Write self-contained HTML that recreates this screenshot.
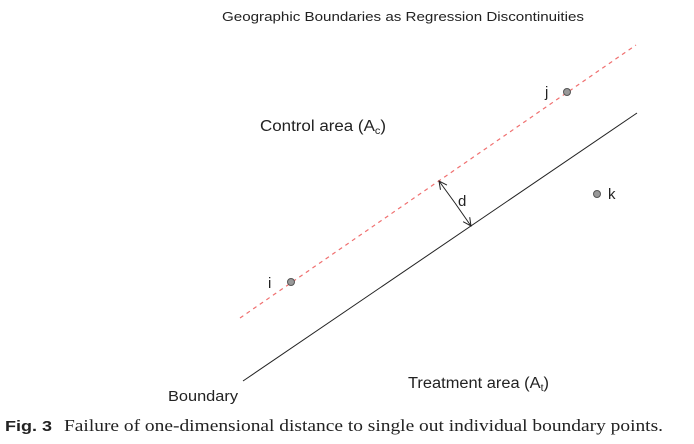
<!DOCTYPE html>
<html><head><style>
body{margin:0;background:#fff;width:694px;height:444px;overflow:hidden}
</style></head><body>
<svg width="694" height="444" xmlns="http://www.w3.org/2000/svg" style="position:absolute;left:0;top:0">
<defs><marker id="a" markerWidth="10" markerHeight="10" refX="9" refY="5" orient="auto" markerUnits="userSpaceOnUse"><path d="M1,1 L9,5 L1,9" fill="none" stroke="#222" stroke-width="1"/></marker></defs>
<text x="222" y="21" font-family="Liberation Sans, sans-serif" font-size="13" textLength="362" lengthAdjust="spacingAndGlyphs" fill="#222">Geographic Boundaries as Regression Discontinuities</text>
<line x1="243" y1="381" x2="637" y2="113" stroke="#222" stroke-width="1"/>
<line x1="240" y1="318" x2="636" y2="45" stroke="#f07070" stroke-width="1.2" stroke-dasharray="4,4"/>
<line x1="455" y1="203" x2="439" y2="181" stroke="#222" marker-end="url(#a)"/>
<line x1="455" y1="203" x2="471" y2="226" stroke="#222" marker-end="url(#a)"/>
<text x="458" y="206" font-family="Liberation Sans, sans-serif" font-size="15" fill="#222">d</text>
<circle cx="567" cy="92" r="3.5" fill="#999" stroke="#555"/>
<circle cx="597" cy="194" r="3.5" fill="#999" stroke="#555"/>
<circle cx="291" cy="282" r="3.5" fill="#999" stroke="#555"/>
<text x="545" y="97" font-family="Liberation Sans, sans-serif" font-size="15" fill="#222">j</text>
<text x="608" y="199" font-family="Liberation Sans, sans-serif" font-size="15" fill="#222">k</text>
<text x="268" y="288" font-family="Liberation Sans, sans-serif" font-size="15" fill="#222">i</text>
<text x="260" y="131" font-family="Liberation Sans, sans-serif" font-size="15.5" fill="#222" textLength="126" lengthAdjust="spacingAndGlyphs">Control area (A<tspan font-size="10" dy="3">c</tspan><tspan dy="-3">)</tspan></text>
<text x="408" y="388" font-family="Liberation Sans, sans-serif" font-size="15.5" fill="#222" textLength="141" lengthAdjust="spacingAndGlyphs">Treatment area (A<tspan font-size="10" dy="3">t</tspan><tspan dy="-3">)</tspan></text>
<text x="168" y="401" font-family="Liberation Sans, sans-serif" font-size="15" textLength="70" lengthAdjust="spacingAndGlyphs" fill="#222">Boundary</text>
<text x="5" y="431" font-family="Liberation Sans, sans-serif" font-size="15" font-weight="bold" textLength="47" lengthAdjust="spacingAndGlyphs" fill="#222">Fig. 3</text>
<text x="64" y="431" font-family="Liberation Serif, serif" font-size="17" textLength="599" lengthAdjust="spacingAndGlyphs" fill="#222">Failure of one-dimensional distance to single out individual boundary points.</text>
</svg>
</body></html>
